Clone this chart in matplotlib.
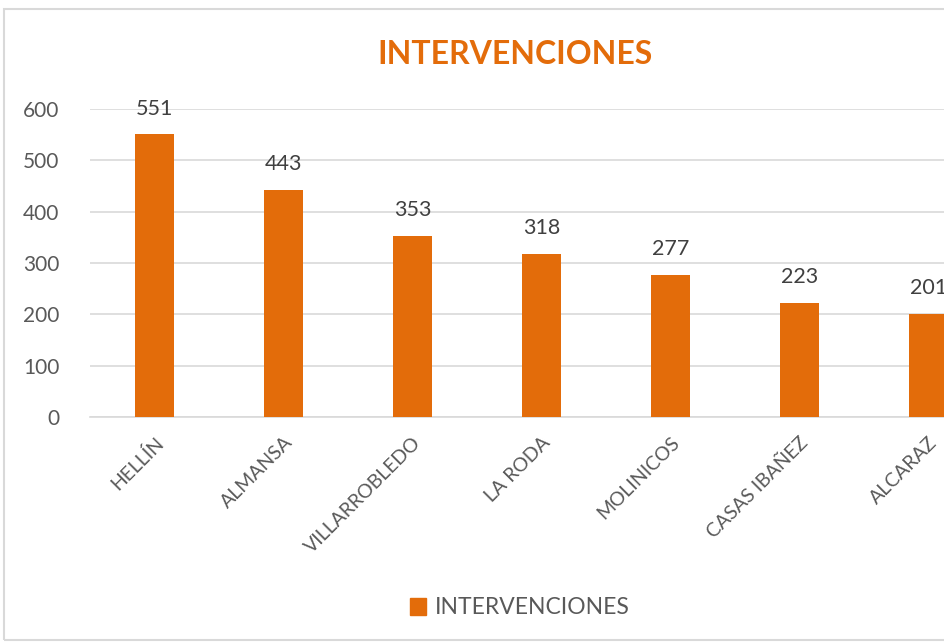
import matplotlib.pyplot as plt
from matplotlib.patches import Rectangle, Patch

municipios = ['HELLÍN', 'ALMANSA', 'VILLARROBLEDO', 'LA RODA', 'MOLINICOS', 'CASAS IBAÑEZ', 'ALCARAZ']
intervenciones = [551, 443, 353, 318, 277, 223, 201]
y_ticks = [0, 100, 200, 300, 400, 500, 600]

naranja = '#E36C0A'
gris_texto = '#595959'
gris_linea = '#D9D9D9'

plt.rcParams['font.family'] = ['Lato', 'DejaVu Sans']

fig = plt.figure(figsize=(9.44, 6.43), dpi=100)

# marco del gráfico (cortado a la derecha)
fig.patches.append(Rectangle((4 / 944, 3 / 643), 1.2, 631 / 643, transform=fig.transFigure,
                             fill=False, edgecolor=gris_linea, linewidth=1.5))

ax = fig.add_axes([90 / 944, (643 - 417) / 643, 854 / 944, 308 / 643])
x = range(len(municipios))
ax.bar(x, intervenciones, width=0.31, color=naranja, zorder=3)
for xi, v in zip(x, intervenciones):
    ax.text(xi, v + 30, str(v), ha='center', va='bottom', fontsize=15.5, color='#404040', clip_on=False)

ax.set_xlim(-0.5, 854 / 129 - 0.5)
ax.set_ylim(0, 600)
ax.set_yticks(y_ticks)
ax.set_yticklabels([str(t) for t in y_ticks], fontsize=15, color=gris_texto)
ax.tick_params(axis='y', length=0, pad=22)
ax.yaxis.grid(True, color=gris_linea, linewidth=1.2, zorder=0)
ax.set_xticks(list(x))
ax.set_xticklabels(municipios, rotation=45, ha='right', rotation_mode='anchor',
                   fontsize=14, color=gris_texto)
ax.tick_params(axis='x', length=0, pad=12)
for s in ['top', 'right', 'left']:
    ax.spines[s].set_visible(False)
ax.spines['bottom'].set_color(gris_linea)
ax.spines['bottom'].set_linewidth(1.2)

fig.text(515 / 944, 1 - 55 / 643, 'INTERVENCIONES', ha='center', va='center',
         fontsize=23, fontweight='bold', color=naranja)

fig.legend(handles=[Patch(color=naranja, label='INTERVENCIONES')], loc='center',
           bbox_to_anchor=(520 / 944, 1 - 608 / 643), frameon=False, fontsize=16.5,
           handlelength=0.7, handleheight=0.7, handletextpad=0.4, labelcolor=gris_texto)

fig.savefig('out.png', dpi=100)
